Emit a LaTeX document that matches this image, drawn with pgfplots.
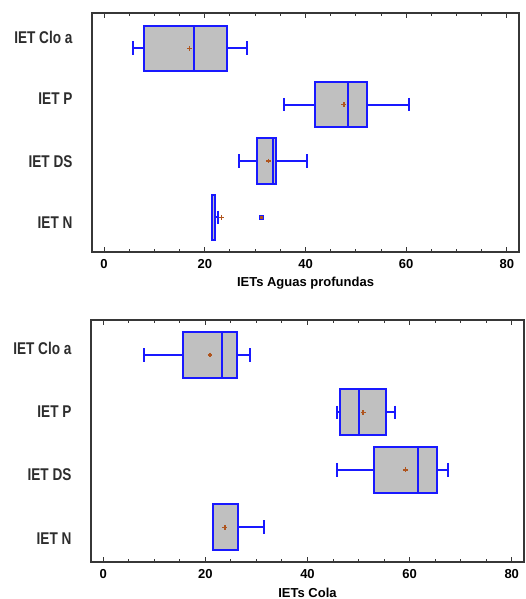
\documentclass[border=0pt]{standalone}
\usepackage{fontspec}
\setmainfont{Liberation Sans}
\usepackage{graphicx}
\usepackage{pgfplots}
\pgfplotsset{compat=1.18}
\usepgfplotslibrary{statistics}

\definecolor{boxblue}{RGB}{25,25,255}
\definecolor{boxfill}{RGB}{192,192,192}
\definecolor{meanbrown}{RGB}{175,85,30}
\definecolor{framegray}{RGB}{55,55,55}
\definecolor{labelgray}{RGB}{45,45,45}

\newcommand{\cat}[1]{\scalebox{0.8}[1]{#1}}

\pgfplotsset{
  iet/.style={
    scale only axis,
    y dir=reverse,
    xmin=-2.4, xmax=82.4,
    xtick={0,20,...,80},
    minor x tick num=3,
    xtick pos=both,
    tick align=inside,
    major tick length=5pt,
    minor tick length=3pt,
    tick style={framegray, line width=1pt},
    ytick style={draw=none},
    axis line style={framegray, line width=1.8pt},
    /pgf/number format/assume math mode=true,
    xticklabel style={font=\bfseries\fontsize{13}{15}\selectfont, yshift=-3.5pt},
    yticklabel style={font=\bfseries\fontsize{17}{19}\selectfont, text=labelgray, xshift=-16pt},
    xlabel style={font=\bfseries\fontsize{13}{15}\selectfont, at={(axis description cs:0.5,0)}, anchor=center, yshift=-30.5pt},
    yticklabels={\cat{IET Clo a}, \cat{IET P}, \cat{IET DS}, \cat{IET N}},
    boxplot/draw direction=x,
    boxplot/box extend=0.8,
    boxplot/whisker extend=0.24,
    boxplot/every box/.style={fill=boxfill, draw=boxblue, line width=2pt},
    boxplot/every whisker/.style={draw=boxblue, line width=2pt},
    boxplot/every median/.style={draw=boxblue, line width=2pt},
  },
  bx/.style={boxblue, line width=2pt, boxplot prepared={#1}},
  mean/.style={only marks, mark=+, mark size=2.4pt, mark options={meanbrown, line width=1.5pt}},
}

\begin{document}
\begin{tikzpicture}
\path[use as bounding box] (0pt,0pt) rectangle (526pt,-599pt);

% Aguas profundas
\begin{axis}[iet,
    at={(92pt,-252.3pt)}, anchor=south west,
    width=427pt, height=239pt,
    ymin=0.38, ymax=4.62,
    ytick={0.81,1.89,3.02,4.10},
    xlabel={IETs Aguas profundas}]
\addplot[bx={draw position=1, lower whisker=5.8, lower quartile=7.95,
    median=17.8, upper quartile=24.5, upper whisker=28.4}] coordinates {};
\addplot[bx={draw position=2, lower whisker=35.7, lower quartile=41.8,
    median=48.4, upper quartile=52.2, upper whisker=60.6}] coordinates {};
\addplot[bx={draw position=3, lower whisker=26.8, lower quartile=30.3,
    median=33.6, upper quartile=34.1, upper whisker=40.2}] coordinates {};
\addplot[bx={draw position=4, lower whisker=21.5, lower quartile=21.5,
    median=21.95, upper quartile=22.0, upper whisker=22.6}] coordinates {};
% outlier
\addplot[only marks, mark=square*, mark size=1.8pt,
    mark options={fill=meanbrown, draw=boxblue, line width=0.9pt}] coordinates {(31.3,4)};
% means
\addplot[mean] coordinates {(17.0,1) (47.6,2) (32.7,3) (23.3,4)};
\end{axis}

% Cola
\begin{axis}[iet,
    at={(91pt,-562.3pt)}, anchor=south west,
    width=433pt, height=242.3pt,
    ymin=0.39, ymax=4.61,
    ytick={0.88,1.98,3.09,4.19},
    xlabel={IETs Cola}]
\addplot[bx={draw position=1, lower whisker=8.0, lower quartile=15.6,
    median=23.2, upper quartile=26.1, upper whisker=28.7}] coordinates {};
\addplot[bx={draw position=2, lower whisker=45.8, lower quartile=46.4,
    median=50.1, upper quartile=55.4, upper whisker=57.2}] coordinates {};
\addplot[bx={draw position=3, lower whisker=45.8, lower quartile=53.1,
    median=61.7, upper quartile=65.4, upper whisker=67.6}] coordinates {};
\addplot[bx={draw position=4, lower whisker=21.4, lower quartile=21.4,
    median=21.4, upper quartile=26.4, upper whisker=31.4}] coordinates {};
% means
\addplot[mean] coordinates {(20.9,1) (50.9,2) (59.2,3) (23.8,4)};
\end{axis}
\end{tikzpicture}
\end{document}
